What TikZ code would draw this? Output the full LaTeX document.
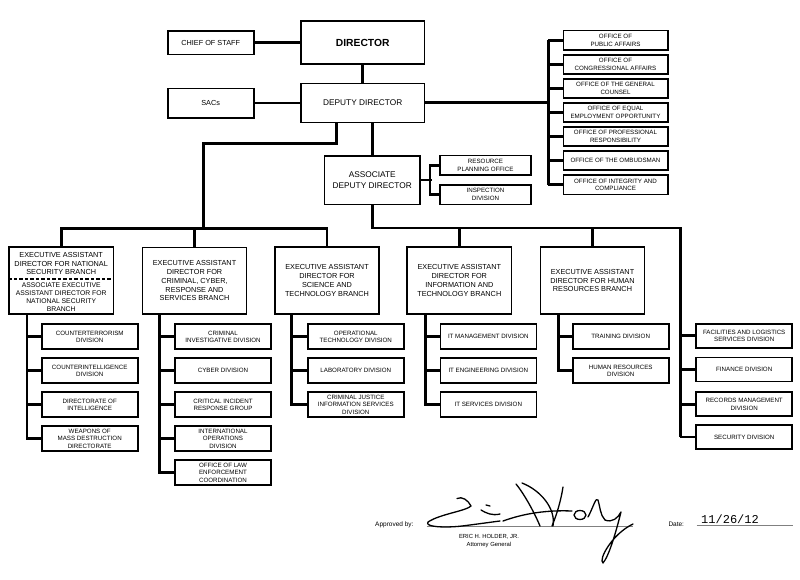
\documentclass[tikz,border=0pt]{standalone}
\usepackage{fontspec}
\setmainfont{Liberation Sans}
\newfontfamily\datefont{Liberation Mono}
\newcommand{\orgsmall}{\fontsize{6.2}{7.6}\selectfont}
\newcommand{\orgmid}{\fontsize{7.3}{8.7}\selectfont}
\newcommand{\orgdep}{\fontsize{8.3}{10.4}\selectfont}
\newcommand{\orgbig}{\fontsize{10.3}{12}\selectfont\bfseries}

\tikzset{
  box/.style={draw, line width=1.6pt, align=center, inner sep=1pt, font=\orgsmall},
  subbox/.style={box, minimum width=96pt, minimum height=25pt},
  officebox/.style={box, minimum width=104.4pt, minimum height=19.3pt},
  eadbox/.style={box, minimum width=104.3pt, minimum height=66.5pt, font=\orgmid},
  link/.style={line width=2.8pt},
  dashrule/.style={line width=1.6pt, dash pattern=on 3.5pt off 2pt},
  sig/.style={line width=1.3pt, line cap=round, line join=round},
}

\begin{document}
\begin{tikzpicture}[x=1pt,y=-1pt]
    \useasboundingbox (0,0) rectangle (800,579);

    % Director and deputy
    \node[box, minimum width=123.3pt, minimum height=43pt, font=\orgbig] (dir) at (362.7,42.5) {DIRECTOR};
    \node[box, minimum width=86pt, minimum height=23.3pt, font=\orgmid] (cos) at (210.7,42.7) {CHIEF OF STAFF};
    \node[box, minimum width=123.3pt, minimum height=39pt, font=\orgdep] (dep) at (362.7,102.8) {DEPUTY DIRECTOR};
    \node[box, minimum width=86pt, minimum height=29.4pt, font=\orgmid] (sacs) at (210.7,103) {SACs};

    \draw[link] (dir) -- (dep);
    \draw[link] (cos.east) -- (cos.east -| dir.west);
    \draw[link] (sacs.east) -- (sacs.east -| dep.west);

    % Offices
    \node[officebox] (opa) at (615.5,40.3) {OFFICE OF\\PUBLIC AFFAIRS};
    \node[officebox] (oca) at (615.5,64.4) {OFFICE OF\\CONGRESSIONAL AFFAIRS};
    \node[officebox] (ogc) at (615.5,88.4) {OFFICE OF THE GENERAL\\COUNSEL};
    \node[officebox] (eeo) at (615.5,112.5) {OFFICE OF EQUAL\\EMPLOYMENT OPPORTUNITY};
    \node[officebox] (opr) at (615.5,136.6) {OFFICE OF PROFESSIONAL\\RESPONSIBILITY};
    \node[officebox] (omb) at (615.5,160.6) {OFFICE OF THE OMBUDSMAN};
    \node[officebox] (oic) at (615.5,184.7) {OFFICE OF INTEGRITY AND\\COMPLIANCE};

    \coordinate (obus) at ([xshift=-14.3pt]opa.west);
    \foreach \n in {opa,oca,ogc,eeo,opr,omb,oic}
      \draw[link] (\n.west) -- (\n.west -| obus);
    \draw[link] (opa.west -| obus) -- (oic.west -| obus);
    \draw[link] (dep.east) -- (dep.east -| obus);

    % Associate deputy director
    \node[box, minimum width=95.7pt, minimum height=48.6pt, font=\orgdep] (add) at (372.2,180) {ASSOCIATE\\DEPUTY DIRECTOR};
    \node[box, minimum width=91pt, minimum height=19.3pt] (rpo) at (485.5,165.3) {RESOURCE\\PLANNING OFFICE};
    \node[box, minimum width=91pt, minimum height=19.6pt] (insp) at (485.5,194.5) {INSPECTION\\DIVISION};

    \draw[link] (add.north) -- (add.north |- dep.south);
    \draw[link] (add.east) -- ++(10.7,0);
    \draw[link] (rpo.west) -- ++(-9.3,0) |- (insp.west);

    % Branches
    \node[eadbox] (ead1) at (61.2,280.5) {};
    \node[font=\orgmid, align=center, inner sep=0] (nsbtop) at (61.2,263.6) {EXECUTIVE ASSISTANT\\DIRECTOR FOR NATIONAL\\SECURITY BRANCH};
    \node[font=\fontsize{6.8}{7.9}\selectfont, align=center, inner sep=0] (nsbbot) at (61.2,297.2) {ASSOCIATE EXECUTIVE\\ASSISTANT DIRECTOR FOR\\NATIONAL SECURITY\\BRANCH};
    \draw[dashrule] ([yshift=1.5pt]ead1.west) -- ([yshift=1.5pt]ead1.east);

    \node[eadbox] (ead2) at (194.5,280.8) {EXECUTIVE ASSISTANT\\DIRECTOR FOR\\CRIMINAL, CYBER,\\RESPONSE AND\\SERVICES BRANCH};
    \node[eadbox] (ead3) at (327,280.5) {EXECUTIVE ASSISTANT\\DIRECTOR FOR\\SCIENCE AND\\TECHNOLOGY BRANCH};
    \node[eadbox] (ead4) at (459.3,280.5) {EXECUTIVE ASSISTANT\\DIRECTOR FOR\\INFORMATION AND\\TECHNOLOGY BRANCH};
    \node[eadbox] (ead5) at (592.5,280.5) {EXECUTIVE ASSISTANT\\DIRECTOR FOR HUMAN\\RESOURCES BRANCH};

    % Divisions
    \node[subbox] (ct)   at (89.7,336.7) {COUNTERTERRORISM\\DIVISION};
    \node[subbox] (ci)   at (89.7,370.7) {COUNTERINTELLIGENCE\\DIVISION};
    \node[subbox] (doi)  at (89.7,404.7) {DIRECTORATE OF\\INTELLIGENCE};
    \node[subbox] (wmd)  at (89.7,438.7) {WEAPONS OF\\MASS DESTRUCTION\\DIRECTORATE};

    \node[subbox] (cid)  at (223,336.7) {CRIMINAL\\INVESTIGATIVE DIVISION};
    \node[subbox] (cyb)  at (223,370.7) {CYBER DIVISION};
    \node[subbox] (cirg) at (223,404.7) {CRITICAL INCIDENT\\RESPONSE GROUP};
    \node[subbox] (iod)  at (223,438.7) {INTERNATIONAL\\OPERATIONS\\DIVISION};
    \node[subbox] (olec) at (223,472.7) {OFFICE OF LAW\\ENFORCEMENT\\COORDINATION};

    \node[subbox] (otd)  at (355.8,336.7) {OPERATIONAL\\TECHNOLOGY DIVISION};
    \node[subbox] (lab)  at (355.8,370.7) {LABORATORY DIVISION};
    \node[subbox] (cjis) at (355.8,404.7) {CRIMINAL JUSTICE\\INFORMATION SERVICES\\DIVISION};

    \node[subbox] (itmd) at (488.3,336.7) {IT MANAGEMENT DIVISION};
    \node[subbox] (ited) at (488.3,370.7) {IT ENGINEERING DIVISION};
    \node[subbox] (itsd) at (488.3,404.7) {IT SERVICES DIVISION};

    \node[subbox] (trn)  at (620.7,336.7) {TRAINING DIVISION};
    \node[subbox] (hrd)  at (620.7,370.7) {HUMAN RESOURCES\\DIVISION};

    \node[subbox, minimum height=24pt] (fac) at (744.2,335.7) {FACILITIES AND LOGISTICS\\SERVICES DIVISION};
    \node[subbox, minimum height=24pt] (fin) at (744.2,369.5) {FINANCE DIVISION};
    \node[subbox, minimum height=24pt] (rec) at (744.2,404.2) {RECORDS MANAGEMENT\\DIVISION};
    \node[subbox, minimum height=24pt] (sec) at (744.2,437) {SECURITY DIVISION};

    % Buses to the branches
    \coordinate (lbus) at (203.3,228.3);
    \coordinate (rbus) at (0,228);
    \coordinate (s6) at ([xshift=-15pt]fac.west);
    \draw[link] ([xshift=-26pt]dep.south) -- ++(0,20) -| (lbus);
    \draw[link] (ead1.north) -- (ead1.north |- lbus) -- (ead3.north |- lbus) -- (ead3.north);
    \draw[link] (ead2.north) -- (ead2.north |- lbus);
    \draw[link] (add.south) -- (add.south |- rbus) -| (sec.west -| s6);
    \draw[link] (ead4.north) -- (ead4.north |- rbus);
    \draw[link] (ead5.north) -- (ead5.north |- rbus);

    % Spines to the divisions
    \coordinate (s1) at ([xshift=18.7pt]ead1.south west);
    \coordinate (s2) at ([xshift=18pt]ead2.south west);
    \coordinate (s3) at ([xshift=17.5pt]ead3.south west);
    \coordinate (s4) at ([xshift=19.5pt]ead4.south west);
    \coordinate (s5) at ([xshift=19pt]ead5.south west);
    \draw[link] (s1) |- (wmd.west);
    \draw[link] (s2) |- (olec.west);
    \draw[link] (s3) |- (cjis.west);
    \draw[link] (s4) |- (itsd.west);
    \draw[link] (s5) |- (hrd.west);
    \foreach \n in {ct,ci,doi} \draw[link] (\n.west) -- (\n.west -| s1);
    \foreach \n in {cid,cyb,cirg,iod} \draw[link] (\n.west) -- (\n.west -| s2);
    \foreach \n in {otd,lab} \draw[link] (\n.west) -- (\n.west -| s3);
    \foreach \n in {itmd,ited} \draw[link] (\n.west) -- (\n.west -| s4);
    \draw[link] (trn.west) -- (trn.west -| s5);
    \foreach \n in {fac,fin,rec,sec} \draw[link] (\n.west) -- (\n.west -| s6);

    % Approval
    \node[font=\fontsize{6.5}{8}\selectfont, anchor=base west, inner sep=0] (appr) at (375,526.5) {Approved by:};
    \coordinate (sigl) at (426.7,526);
    \coordinate (sigr) at (633.3,526);
    \draw[line width=0.5pt, gray] (sigl) -- (sigr);
    \node[font=\fontsize{5.9}{8.6}\selectfont, align=center, inner sep=0] (ag) at (489,541) {ERIC H. HOLDER, JR.\\Attorney General};
    \node[font=\fontsize{6.5}{8}\selectfont, anchor=base west, inner sep=0] (datel) at (668.3,526.5) {Date:};
    \node[font=\datefont\fontsize{12}{14}\selectfont, anchor=base west, inner sep=0] (date) at (701,523.7) {11/26/12};
    \coordinate (datl) at (696.7,525);
    \coordinate (datr) at (793.3,525);
    \draw[line width=0.6pt, gray] (datl) -- (datr);

    % Signature
    \draw[sig] (457,498.5) .. controls (462,496) and (468,500) .. (471,506)
               .. controls (466,511) and (440,514) .. (428,522)
               .. controls (424,527) and (445,528) .. (462,526)
               .. controls (478,524) and (492,522) .. (500,521);
    \draw[sig] (481,510) .. controls (486,513) and (492,516) .. (500,514);
    \draw[sig] (486,505) -- (490,506);
    \draw[sig] (516,484) .. controls (525,495) and (535,514) .. (540,526);
    \draw[sig] (522,483) .. controls (540,490) and (556,508) .. (553,526);
    \draw[sig] (563,487) .. controls (561,500) and (557,514) .. (552,526);
    \draw[sig] (503,521) .. controls (525,513) and (548,510) .. (572,511);
    \draw[sig] (580,515) ellipse (6 and 4.5);
    \draw[sig] (588,517) .. controls (593,508) and (596,496) .. (598,500)
               .. controls (600,506) and (600,515) .. (605,520);
    \draw[sig] (605,520) .. controls (612,523) and (618,518) .. (621,512)
               .. controls (616,532) and (609,556) .. (603,563)
               .. controls (598,560) and (612,534) .. (633,524);
\end{tikzpicture}
\end{document}
